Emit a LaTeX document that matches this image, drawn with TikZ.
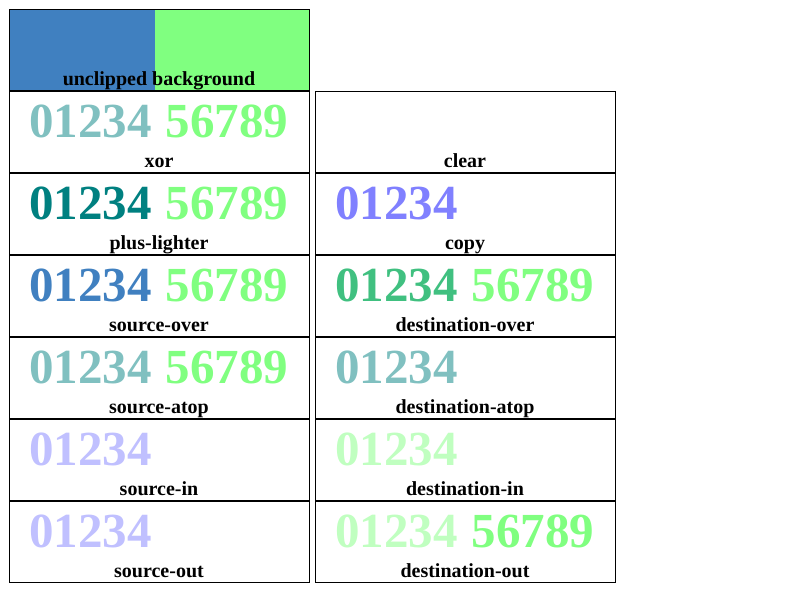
\documentclass[tikz,border=0pt]{standalone}
\usepackage{fontspec}
\setmainfont{Liberation Serif}

\definecolor{steel}{HTML}{4080C0}
\definecolor{lgreen}{HTML}{80FF80}
\definecolor{teal}{HTML}{008080}
\definecolor{paleteal}{HTML}{80C0C0}
\definecolor{lavender}{HTML}{C0C0FF}
\definecolor{periwinkle}{HTML}{8080FF}
\definecolor{seagreen}{HTML}{40C080}
\definecolor{mint}{HTML}{C0FFC0}

\tikzset{
  cell/.style={draw, line width=1pt, anchor=north west, inner sep=0pt,
    minimum width=300pt, minimum height=81pt},
  digits/.style={anchor=base west, inner sep=0pt,
    font=\fontsize{49}{49}\selectfont\bfseries},
  caption/.style={anchor=base, inner sep=0pt,
    font=\fontsize{20}{20}\selectfont\bfseries},
}

\begin{document}
\begin{tikzpicture}[x=1pt, y=-1pt]
\useasboundingbox (0,0) rectangle (800,600);

% background panel
\node[cell, path picture={
    \fill[steel] (path picture bounding box.north west) rectangle ([xshift=146pt]path picture bounding box.south west);
    \fill[lgreen] ([xshift=146pt]path picture bounding box.north west) rectangle (path picture bounding box.south east);
  }] (bg) at (8.5,8.5) {};
\node[caption] (bglabel) at ([yshift=5pt]bg.south) {unclipped background};

% name/column/row/label/digits
\foreach \n/\c/\r/\lab/\txt in {
    xor/0/0/xor/{\textcolor{paleteal}{01234}\hspace{14pt}\textcolor{lgreen}{56789}},
    plus/0/1/plus-lighter/{\textcolor{teal}{01234}\hspace{14pt}\textcolor{lgreen}{56789}},
    srcover/0/2/source-over/{\textcolor{steel}{01234}\hspace{14pt}\textcolor{lgreen}{56789}},
    srcatop/0/3/source-atop/{\textcolor{paleteal}{01234}\hspace{14pt}\textcolor{lgreen}{56789}},
    srcin/0/4/source-in/{\textcolor{lavender}{01234}},
    srcout/0/5/source-out/{\textcolor{lavender}{01234}},
    clear/1/0/clear/{},
    copy/1/1/copy/{\textcolor{periwinkle}{01234}},
    dstover/1/2/destination-over/{\textcolor{seagreen}{01234}\hspace{14pt}\textcolor{lgreen}{56789}},
    dstatop/1/3/destination-atop/{\textcolor{paleteal}{01234}},
    dstin/1/4/destination-in/{\textcolor{mint}{01234}},
    dstout/1/5/destination-out/{\textcolor{mint}{01234}\hspace{14pt}\textcolor{lgreen}{56789}}}
{
  \node[cell] (\n) at (8.5+306*\c, 90.5+82*\r) {};
  \node[digits] (\n-d) at ([xshift=20.5pt, yshift=-46.5pt]\n.north west) {\txt};
  \node[caption] (\n-l) at ([yshift=5pt]\n.south) {\lab};
}

\end{tikzpicture}
\end{document}
